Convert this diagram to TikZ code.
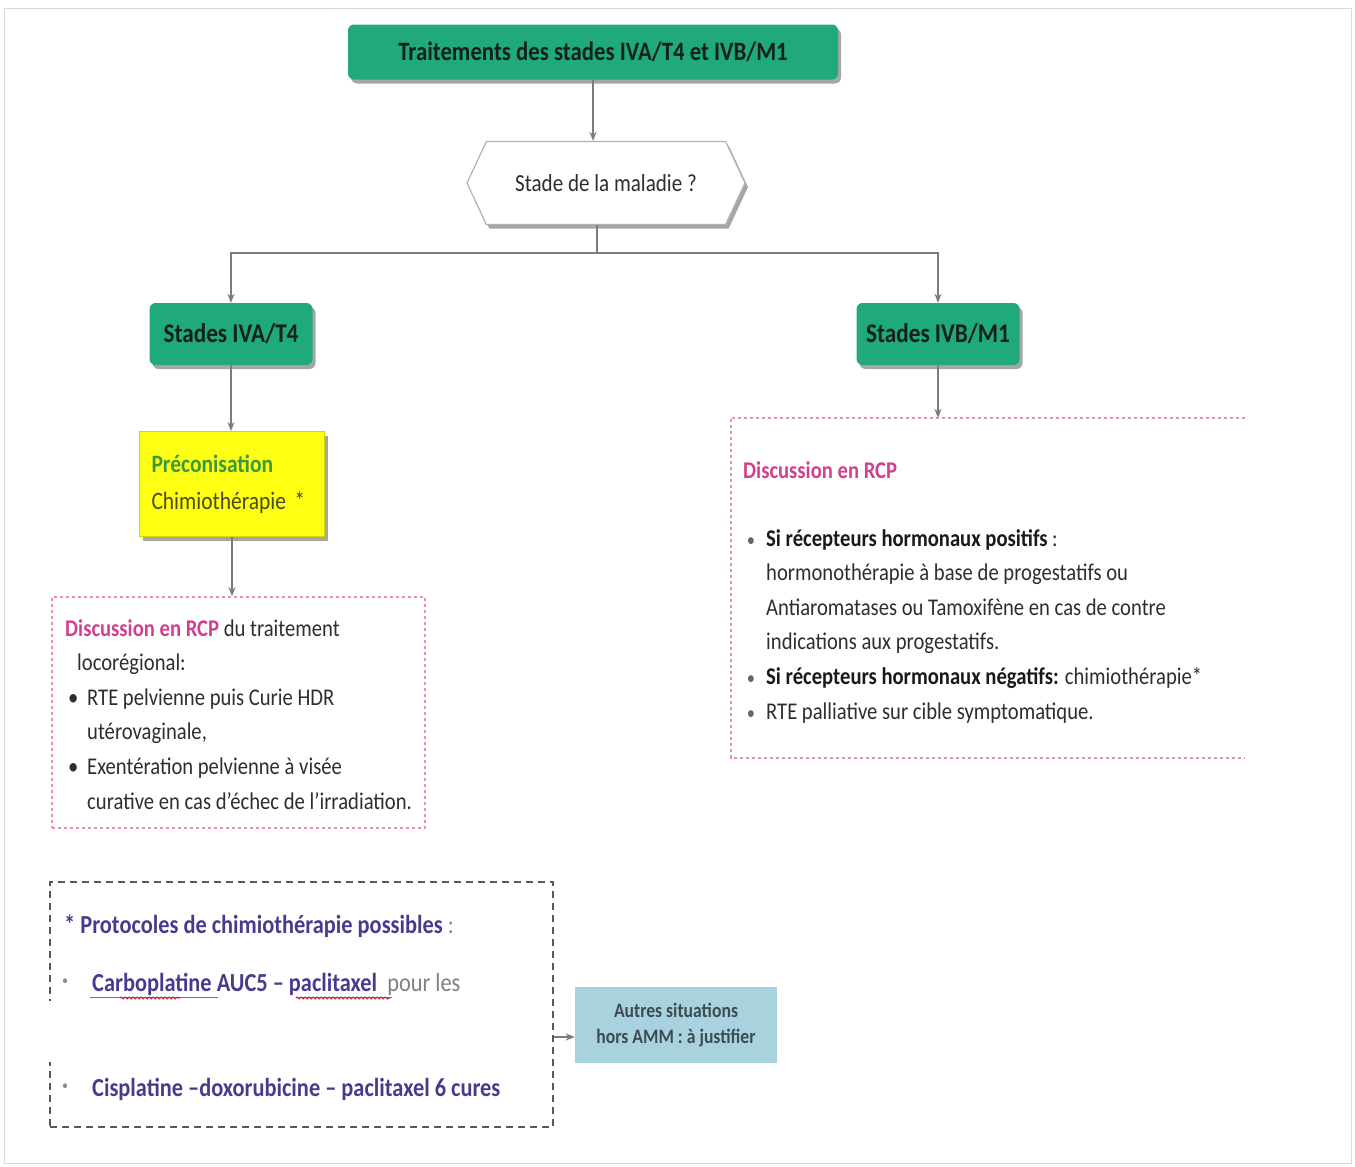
\documentclass[tikz,border=0pt]{standalone}
\usepackage{fontspec}
\setmainfont{Carlito}[FakeStretch=0.86]
\usetikzlibrary{shapes.symbols,shadows,arrows.meta,decorations.pathmorphing}

\definecolor{stagegreen}{HTML}{1FA97C}
\definecolor{darktxt}{HTML}{14211B}
\definecolor{linegray}{HTML}{7C7C7C}
\definecolor{framegray}{HTML}{DADADA}
\definecolor{rcppink}{HTML}{D0408C}
\definecolor{dashpink}{HTML}{E690BA}
\definecolor{protopurple}{HTML}{4A3A8E}
\definecolor{protolight}{HTML}{8A86A8}
\definecolor{autresblue}{HTML}{A8D2DE}
\definecolor{autrestext}{HTML}{3D4C52}
\definecolor{bodytxt}{HTML}{2E2E2E}
\definecolor{precgreen}{HTML}{3A9A38}
\definecolor{precolive}{HTML}{4A4A14}
\definecolor{yellowfill}{HTML}{FFFF14}
\definecolor{yellowedge}{HTML}{D6D600}
\definecolor{spellred}{HTML}{D02030}

\newcommand\titletxt{\fontsize{26.5}{32}\selectfont\bfseries}
\newcommand\stagetxt{\fontsize{27}{32}\selectfont\bfseries}
\newcommand\hextxt{\fontsize{24.5}{30}\selectfont}
\newcommand\prectxt{\fontsize{25}{37}\selectfont}
\newcommand\txtbody{\fontsize{24}{34.6}\selectfont}
\newcommand\prototxt{\fontsize{26}{30}\selectfont\bfseries}
\newcommand\autrestxt{\fontsize{20.5}{26}\selectfont\bfseries}
\newcommand\bul{\makebox[0pt][r]{\textcolor{black!60}{\scalebox{0.8}{\textbullet}}\hspace{11pt}}}
\newcommand\lbul{\makebox[22pt][l]{\hspace{3pt}\textbullet}}

\begin{document}
\begin{tikzpicture}[x=1pt,y=-1pt,
  conn/.style={draw=linegray, line width=1.8},
  arr/.style={conn, -{Stealth[length=9pt,width=7pt]}},
  softshadow/.style={drop shadow={shadow xshift=3pt, shadow yshift=-4pt, fill=black, opacity=0.35}},
  greenbox/.style={fill=stagegreen, rounded corners=6, inner sep=0, text=darktxt, softshadow},
  titlebox/.style={greenbox, font=\titletxt, minimum width=490, minimum height=55},
  stagebox/.style={greenbox, font=\stagetxt, minimum width=163, minimum height=62},
  hexbox/.style={signal, signal to=west and east, signal pointer angle=130,
    draw=black!30, line width=1.2, fill=white, minimum width=278, minimum height=83,
    font=\hextxt, text=bodytxt, softshadow},
  precbox/.style={fill=yellowfill, draw=yellowedge, line width=1, minimum height=105,
    text width=161, inner xsep=12, align=left, font=\prectxt, softshadow},
  pinkdash/.style={draw=dashpink, line width=1.6, dash pattern=on 3pt off 3pt},
  protobox/.style={draw=black!65, line width=2, dash pattern=on 7pt off 5pt},
  autresbox/.style={fill=autresblue, minimum width=202, minimum height=76,
    align=center, font=\autrestxt, text=autrestext},
  bodytext/.style={anchor=north west, inner sep=0, align=left, font=\txtbody, text=bodytxt},
  prototext/.style={anchor=west, inner sep=0, font=\prototxt, text=protopurple},
  spell/.style={draw=spellred, line width=1, decorate,
    decoration={snake, amplitude=1pt, segment length=4pt}}
]
\useasboundingbox (0,0) rectangle (1355,1167);

% thin outer frame
\draw[framegray, line width=1] (4,8) rectangle (1351,1163);

% --- top of the tree
\node[titlebox] (title) at (593,52) {Traitements des stades IVA/T4 et IVB/M1};
\node[hexbox] (hex) at (606,183) {Stade de la maladie ?};
\draw[arr] (title.south) -- (title.south |- hex.north);

\node[stagebox] (ivA) at (231,334) {Stades IVA/T4};
\node[stagebox] (ivB) at (938,334) {Stades IVB/M1};

\coordinate (split) at (597,253);
\draw[conn] (split |- hex.south) -- (split);
\draw[arr] (split) -| (ivA.north);
\draw[arr] (split) -| (ivB.north);

% --- left branch
\node[precbox] (prec) at (232,484)
  {\textcolor{precgreen}{\bfseries Préconisation}\\\textcolor{precolive}{Chimiothérapie *}};
\draw[arr] (ivA.south) -- (ivA.south |- prec.north);

\node[pinkdash, minimum width=373, minimum height=231] (rcpA) at (238.5,712.5) {};
\draw[arr] (prec.south) -- (prec.south |- rcpA.north);

\node[bodytext] (rcpAtxt) at (65,619) {%
  \textcolor{rcppink}{\bfseries Discussion en RCP} du traitement\\
  \hspace*{12pt}locorégional:\\
  \lbul RTE pelvienne puis Curie HDR\\
  \hspace*{22pt}utérovaginale,\\
  \lbul Exentération pelvienne à visée\\
  \hspace*{22pt}curative en cas d'échec de l'irradiation.};

% --- right branch
\node[inner sep=0, minimum width=514, minimum height=340] (rcpB) at (988,588) {};
\draw[pinkdash] (rcpB.north east) -- (rcpB.north west) -- (rcpB.south west) -- (rcpB.south east);
\draw[arr] (ivB.south) -- (ivB.south |- rcpB.north);

\node[anchor=west, inner sep=0, font=\txtbody\bfseries, text=rcppink] (rcpBhead) at (743,470) {Discussion en RCP};
\node[bodytext] (rcpBtxt) at (766,529) {%
  \bul{\bfseries\color{black!90}Si récepteurs hormonaux positifs} :\\
  hormonothérapie à base de progestatifs ou\\
  Antiaromatases ou Tamoxifène en cas de contre\\
  indications aux progestatifs.\\
  \bul{\bfseries\color{black!90}Si récepteurs hormonaux négatifs:} chimiothérapie*\\
  \bul RTE palliative sur cible symptomatique.};

% --- chemotherapy protocols
\node[protobox, minimum width=503, minimum height=245] (proto) at (301.5,1004.5) {};
\fill[white] (36,1001) rectangle (470,1062);

\node[prototext] (proto1) at (64,926)
  {* Protocoles de chimiothérapie possibles\textcolor{protolight}{\mdseries\ :}};
\node[anchor=west, inner sep=0, font=\prototxt, text=black!45] (bulA) at (62,984) {·};
\node[prototext] (proto2) at (92,984)
  {Carboplatine AUC5 – paclitaxel\textcolor{black!50}{\mdseries\ \ pour les}};
\node[anchor=west, inner sep=0, font=\prototxt, text=black!45] (bulB) at (62,1089) {·};
\node[prototext] (proto3) at (92,1089)
  {Cisplatine –doxorubicine – paclitaxel 6 cures};

% spell-check marks under two drug names
\draw[black!55, line width=0.8] (90,997) -- (218,997);
\draw[spell] (120,998) -- (180,998);
\draw[black!55, line width=0.8] (296,997) -- (392,997);
\draw[spell] (296,998) -- (390,998);

\node[autresbox] (autres) at (676,1025) {Autres situations\\hors AMM : à justifier};
\path ([yshift=-12pt]autres.west) coordinate (aw);
\draw[arr] (proto.east |- aw) -- (aw);

\end{tikzpicture}
\end{document}
